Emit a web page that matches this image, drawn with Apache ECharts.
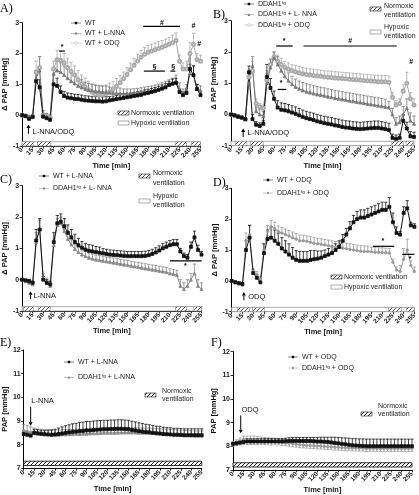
<!DOCTYPE html>
<html><head><meta charset="utf-8">
<script src="https://cdn.jsdelivr.net/npm/echarts@6/dist/echarts.min.js"></script>
<style>html,body{margin:0;padding:0;background:#fff}#c{width:419px;height:495px}</style>
</head><body><div id="c"></div>
<script>
// ---------- DATA ----------
const T = [0,5,10,15,20,25,30,35,40,45,50,55,60,
  65,70,75,80,85,90,95,100,105,110,115,120,125,
  130,135,140,145,150,155,160,165,170,175,180,185,190,
  195,200,205,210,215,220,225,230,235,240,245,250,255];

// Panel A
const A_WT = [0,-0.03,-0.12,-0.05,1.1,0.9,-0.05,-0.1,-0.15,1.0,0.95,0.75,0.62,
  0.57,0.55,0.53,0.52,0.5,0.48,0.47,0.46,0.45,0.45,0.44,0.45,0.48,
  0.5,0.52,0.54,0.56,0.58,0.6,0.62,0.64,0.66,0.7,0.72,0.75,0.78,
  0.82,0.86,0.9,0.98,1.02,1.05,0.75,0.65,0.72,1.5,1.3,0.85,0.65];
const A_WT_E = [0.03,0.03,0.05,0.05,0.3,0.25,0.1,0.1,0.1,0.3,0.25,0.2,0.15,
  0.15,0.15,0.15,0.15,0.15,0.15,0.15,0.15,0.15,0.15,0.15,0.15,0.12,
  0.12,0.12,0.12,0.12,0.12,0.12,0.12,0.12,0.12,0.12,0.12,0.12,0.12,
  0.12,0.12,0.12,0.12,0.15,0.15,0.1,0.1,0.15,0.5,0.3,0.15,0.1];
const A_LN = [0,-0.02,-0.05,-0.05,1.2,1.45,0.0,-0.05,-0.1,1.35,1.45,1.4,1.3,
  1.2,1.1,1.03,0.95,0.9,0.85,0.82,0.8,0.78,0.77,0.75,0.75,0.73,
  0.72,0.71,0.7,0.7,0.7,0.7,0.71,0.72,0.74,0.76,0.78,0.8,0.83,
  0.86,0.9,0.95,1.0,1.05,1.1,0.85,0.7,0.85,1.35,1.3,0.85,0.8];
const A_LN_E = [0.05,0.05,0.05,0.05,0.25,0.45,0.15,0.1,0.1,0.2,0.3,0.3,0.3,
  0.3,0.3,0.28,0.25,0.25,0.22,0.2,0.2,0.2,0.2,0.2,0.2,0.18,
  0.18,0.18,0.18,0.15,0.15,0.15,0.15,0.15,0.15,0.15,0.15,0.15,0.15,
  0.15,0.15,0.15,0.15,0.15,0.2,0.2,0.15,0.15,0.3,0.3,0.15,0.15];
const A_OD = [0,-0.03,-0.07,-0.05,1.4,1.55,0.0,-0.05,-0.08,1.5,1.8,1.78,1.7,
  1.55,1.42,1.3,1.15,1.02,0.92,0.82,0.74,0.68,0.66,0.66,0.7,0.76,
  0.84,0.94,1.05,1.18,1.32,1.47,1.62,1.76,1.88,1.98,2.04,2.08,2.12,
  2.16,2.2,2.25,2.3,2.35,2.42,1.75,1.5,1.5,2.0,2.3,1.8,1.75];
const A_OD_E = [0.03,0.03,0.05,0.05,0.35,0.35,0.1,0.1,0.1,0.25,0.3,0.3,0.3,
  0.3,0.3,0.3,0.3,0.28,0.28,0.28,0.28,0.28,0.28,0.28,0.28,0.28,
  0.26,0.25,0.24,0.22,0.22,0.22,0.22,0.22,0.22,0.22,0.22,0.22,0.22,
  0.22,0.22,0.22,0.22,0.25,0.25,0.2,0.2,0.25,0.35,0.35,0.2,0.2];

// Panel B
const B_DD = [0,-0.03,-0.07,-0.1,-0.15,1.35,-0.15,-0.33,-0.37,-0.3,1.2,0.85,0.5,
  0.22,0.15,0.13,0.1,0.06,0.02,-0.03,-0.08,-0.12,-0.15,-0.18,-0.22,-0.25,
  -0.28,-0.3,-0.32,-0.35,-0.37,-0.4,-0.42,-0.43,-0.45,-0.46,-0.47,-0.46,-0.45,
  -0.44,-0.43,-0.43,-0.45,-0.47,-0.5,-0.75,-0.78,-0.75,-0.2,-0.45,-0.7,-0.72];
const B_DD_E = [0.03,0.03,0.05,0.05,0.05,0.2,0.15,0.1,0.1,0.1,0.4,0.3,0.25,
  0.22,0.22,0.22,0.22,0.22,0.22,0.22,0.22,0.22,0.22,0.22,0.22,0.22,
  0.22,0.22,0.22,0.22,0.22,0.22,0.22,0.22,0.22,0.22,0.22,0.22,0.22,
  0.22,0.22,0.22,0.22,0.22,0.22,0.12,0.12,0.12,0.2,0.2,0.15,0.15];
const B_LN = [0,-0.03,-0.07,-0.1,-0.15,1.0,1.55,0.1,0.0,-0.05,1.0,1.5,1.8,
  1.6,1.4,1.22,1.08,0.97,0.88,0.82,0.77,0.73,0.7,0.67,0.64,0.62,
  0.6,0.57,0.55,0.52,0.5,0.48,0.46,0.44,0.42,0.4,0.38,0.36,0.34,
  0.32,0.3,0.28,0.26,0.24,0.22,0.0,-0.3,-0.25,0.0,0.2,-0.2,-0.3];
const B_LN_E = [0.03,0.05,0.05,0.05,0.05,0.3,0.3,0.2,0.15,0.15,0.3,0.25,0.2,
  0.25,0.25,0.25,0.25,0.25,0.25,0.25,0.25,0.25,0.25,0.25,0.25,0.25,
  0.25,0.25,0.25,0.25,0.25,0.25,0.25,0.25,0.25,0.25,0.25,0.25,0.25,
  0.25,0.25,0.25,0.25,0.25,0.2,0.2,0.2,0.2,0.25,0.3,0.25,0.25];
const B_OD = [0,-0.03,-0.07,-0.1,-0.15,1.2,1.4,0.35,0.25,0.2,1.1,1.6,1.85,
  1.7,1.6,1.5,1.45,1.4,1.37,1.33,1.3,1.28,1.26,1.25,1.23,1.22,
  1.2,1.19,1.18,1.17,1.16,1.15,1.14,1.13,1.12,1.11,1.1,1.09,1.08,
  1.07,1.06,1.05,1.05,1.05,1.03,0.55,0.3,0.35,0.75,1.0,0.5,0.3];
const B_OD_E = [0.03,0.05,0.05,0.05,0.05,0.25,0.3,0.15,0.1,0.1,0.3,0.2,0.15,
  0.2,0.2,0.2,0.2,0.2,0.2,0.2,0.2,0.2,0.2,0.2,0.2,0.2,
  0.2,0.2,0.2,0.2,0.2,0.2,0.2,0.2,0.2,0.2,0.2,0.2,0.2,
  0.2,0.2,0.2,0.2,0.2,0.2,0.15,0.15,0.15,0.2,0.35,0.2,0.2];

// Panel C
const C_WT = [0,-0.02,-0.05,-0.1,1.25,1.6,0.0,-0.1,-0.15,1.2,1.8,1.85,1.7,
  1.5,1.35,1.2,1.1,1.02,0.96,0.92,0.9,0.88,0.86,0.84,0.82,0.8,
  0.79,0.78,0.77,0.76,0.75,0.75,0.75,0.75,0.75,0.76,0.78,0.82,0.87,
  0.93,1.0,1.05,1.1,1.13,1.13,0.9,0.75,0.7,1.05,1.35,0.95,0.8];
const C_WT_E = [0.03,0.03,0.05,0.05,0.35,0.35,0.1,0.1,0.1,0.3,0.25,0.25,0.25,
  0.25,0.25,0.25,0.22,0.2,0.2,0.2,0.2,0.18,0.18,0.15,0.15,0.15,
  0.15,0.15,0.15,0.15,0.15,0.15,0.15,0.15,0.15,0.15,0.15,0.15,0.15,
  0.15,0.15,0.15,0.15,0.15,0.15,0.1,0.1,0.1,0.15,0.2,0.15,0.1];
const C_DD = [0,-0.05,-0.1,-0.15,1.2,1.6,0.05,-0.1,-0.2,1.1,1.75,1.8,1.55,
  1.3,1.12,0.98,0.88,0.8,0.75,0.7,0.67,0.64,0.62,0.6,0.58,0.56,
  0.54,0.52,0.5,0.48,0.46,0.44,0.42,0.4,0.38,0.36,0.34,0.32,0.3,
  0.28,0.26,0.24,0.2,0.18,0.15,-0.2,-0.3,-0.2,0.0,0.2,-0.2,-0.3];
const C_DD_E = [0.03,0.05,0.05,0.05,0.3,0.3,0.15,0.15,0.15,0.2,0.2,0.2,0.2,
  0.15,0.15,0.15,0.15,0.15,0.15,0.15,0.15,0.15,0.15,0.15,0.15,0.15,
  0.15,0.15,0.15,0.15,0.15,0.15,0.15,0.15,0.15,0.15,0.15,0.15,0.15,
  0.15,0.15,0.15,0.15,0.15,0.15,0.2,0.2,0.2,0.2,0.3,0.2,0.2];

// Panel D
const D_WT = [0,-0.05,-0.08,-0.1,1.0,1.4,0.25,0.1,-0.05,0.9,1.35,1.4,1.3,
  1.2,1.05,0.95,0.85,0.75,0.68,0.65,0.65,0.65,0.68,0.7,0.72,0.75,
  0.8,0.85,0.9,1.0,1.1,1.3,1.5,1.7,1.9,2.0,2.05,2.05,2.1,
  2.15,2.2,2.25,2.3,2.3,2.4,1.9,1.55,1.5,2.2,2.35,1.8,1.75];
const D_WT_E = [0.03,0.05,0.05,0.05,0.3,0.4,0.1,0.1,0.1,0.3,0.3,0.35,0.35,
  0.35,0.35,0.35,0.35,0.33,0.3,0.3,0.3,0.3,0.3,0.28,0.25,0.22,
  0.2,0.2,0.2,0.2,0.2,0.2,0.2,0.22,0.22,0.25,0.25,0.25,0.25,
  0.25,0.25,0.25,0.25,0.25,0.3,0.3,0.2,0.1,0.2,0.25,0.1,0.1];
const D_DD = [0,-0.05,-0.1,-0.15,1.3,1.5,0.3,0.2,0.05,1.0,1.6,1.75,1.7,
  1.6,1.55,1.5,1.45,1.4,1.35,1.3,1.3,1.28,1.25,1.22,1.2,1.18,
  1.16,1.14,1.12,1.1,1.08,1.06,1.04,1.02,1.0,0.98,0.96,0.95,0.95,
  0.94,0.93,0.92,0.92,0.91,0.9,0.6,0.35,0.3,0.7,1.0,0.5,0.3];
const D_DD_E = [0.03,0.05,0.05,0.05,0.25,0.3,0.1,0.1,0.1,0.2,0.2,0.2,0.2,
  0.18,0.18,0.18,0.18,0.18,0.18,0.18,0.18,0.18,0.18,0.18,0.18,0.18,
  0.18,0.18,0.18,0.18,0.18,0.18,0.18,0.18,0.18,0.18,0.18,0.18,0.18,
  0.15,0.15,0.15,0.15,0.15,0.15,0.1,0.1,0.2,0.35,0.35,0.15,0.15];

// Panel E
const E_WT = [8.45,8.42,8.38,8.5,8.48,8.46,8.44,8.43,8.42,8.43,8.45,8.47,8.5,
  8.52,8.54,8.55,8.57,8.58,8.6,8.6,8.62,8.63,8.64,8.65,8.65,8.66,
  8.66,8.67,8.67,8.66,8.65,8.62,8.6,8.57,8.55,8.53,8.52,8.5,8.48,
  8.47,8.45,8.44,8.43,8.42,8.42,8.41,8.4,8.4,8.4,8.4,8.4,8.4];
const E_WT_E = [0.15,0.15,0.15,0.15,0.15,0.15,0.15,0.18,0.2,0.22,0.25,0.28,0.3,
  0.32,0.34,0.35,0.36,0.37,0.38,0.38,0.38,0.38,0.38,0.38,0.38,0.38,
  0.38,0.38,0.38,0.38,0.38,0.37,0.36,0.35,0.34,0.33,0.32,0.31,0.3,
  0.3,0.29,0.28,0.28,0.27,0.27,0.27,0.27,0.27,0.27,0.27,0.27,0.27];
const E_DD = [8.6,8.55,8.5,8.48,8.46,8.45,8.44,8.43,8.42,8.42,8.42,8.43,8.43,
  8.44,8.44,8.45,8.45,8.46,8.46,8.47,8.48,8.48,8.49,8.5,8.5,8.5,
  8.5,8.5,8.51,8.51,8.51,8.51,8.51,8.5,8.5,8.5,8.5,8.49,8.48,
  8.47,8.46,8.45,8.44,8.43,8.42,8.41,8.4,8.4,8.39,8.38,8.38,8.38];
const E_DD_E = [0.25,0.25,0.25,0.22,0.2,0.2,0.2,0.2,0.2,0.2,0.2,0.2,0.2,
  0.2,0.2,0.2,0.2,0.2,0.2,0.2,0.2,0.2,0.2,0.2,0.2,0.2,
  0.2,0.2,0.2,0.2,0.2,0.2,0.2,0.2,0.2,0.2,0.2,0.2,0.2,
  0.2,0.2,0.2,0.2,0.2,0.2,0.2,0.2,0.2,0.2,0.2,0.2,0.2];

// Panel F
const F_WT = [8.1,8.12,8.15,8.18,8.2,8.2,8.2,8.2,8.2,8.2,8.2,8.2,8.2,
  8.2,8.2,8.21,8.22,8.22,8.22,8.22,8.22,8.22,8.22,8.21,8.2,8.2,
  8.19,8.18,8.16,8.14,8.12,8.1,8.08,8.06,8.04,8.03,8.02,8.01,8.0,
  8.0,8.0,8.0,8.0,8.0,8.0,8.0,8.0,8.0,8.0,8.0,8.0,8.0];
const F_WT_E = [0.05,0.08,0.1,0.12,0.12,0.12,0.12,0.12,0.12,0.12,0.12,0.12,0.12,
  0.12,0.12,0.13,0.14,0.15,0.15,0.15,0.15,0.15,0.15,0.16,0.17,0.18,
  0.19,0.2,0.22,0.24,0.25,0.26,0.27,0.28,0.28,0.29,0.29,0.3,0.3,
  0.3,0.3,0.3,0.3,0.3,0.3,0.3,0.3,0.3,0.3,0.3,0.3,0.3];
const F_DD = [8.1,8.15,8.2,8.25,8.25,8.25,8.25,8.24,8.23,8.22,8.21,8.2,8.2,
  8.18,8.16,8.14,8.12,8.1,8.08,8.06,8.05,8.04,8.03,8.02,8.01,8.0,
  7.99,7.98,7.97,7.96,7.95,7.94,7.93,7.93,7.92,7.92,7.91,7.91,7.9,
  7.9,7.9,7.9,7.9,7.9,7.9,7.9,7.9,7.9,7.9,7.9,7.9,7.9];
const F_DD_E = [0.1,0.12,0.15,0.18,0.18,0.18,0.18,0.17,0.16,0.15,0.15,0.15,0.14,
  0.13,0.13,0.12,0.12,0.12,0.12,0.12,0.12,0.12,0.12,0.12,0.12,0.12,
  0.12,0.12,0.12,0.12,0.12,0.12,0.12,0.12,0.12,0.12,0.12,0.12,0.12,
  0.12,0.12,0.12,0.12,0.12,0.12,0.12,0.12,0.12,0.12,0.12,0.12,0.12];

// ventilation segments [start, end, normoxic(1)/hypoxic(0)]
const VENT_A = [[0,255,0],[0,16,1],[22,41,1],[219,235,1],[242,255,1]];
const VENT_B = [[0,255,0],[6,22,1],[27,45,1],[224,240,1],[244,254,1]];
const VENT_C = [[0,255,0],[2,16,1],[23,40,1],[218,234,1],[244,255,1]];
const VENT_D = [[0,255,0],[8,25,1],[29,46,1],[219,237,1],[244,255,1]];
const VENT_E = [[0,255,1]];
const VENT_F = [[0,255,1]];

// significance marks
const ANN_A = [
  {x1:173,x2:226,y:2.88,s:'#',lx:200,ly:3.0},
  {x1:53,x2:61,y:2.08,s:'*',lx:57,ly:2.2},
  {x1:174,x2:204,y:1.43,s:'§',lx:189,ly:1.57},
  {x1:212,x2:219,y:1.43,s:'§',lx:216,ly:1.57},
  {s:'#',lx:245,ly:2.88},
  {s:'#',lx:253,ly:2.3}];
const ANN_B = [
  {x1:63,x2:86,y:2.19,s:'*',lx:74,ly:2.35},
  {x1:101,x2:231,y:2.19,s:'#',lx:166,ly:2.35},
  {x1:65,x2:77,y:0.8,s:'*',lx:70,ly:1.0},
  {s:'#',lx:251,ly:1.68}];
const ANN_C = [{x1:210,x2:255,y:0.6,s:'*',lx:232,ly:0.45}];
const ANN_D = [{x1:197,x2:227,y:1.12,s:'*',lx:211,ly:1.3},{x1:238,x2:255,y:0.86,s:'*',lx:249,ly:0.72}];

// drug arrows
const ARR_A = [{t:9,y1:-0.6,y2:-0.3,label:'L-NNA/ODQ',lt:15,ly:-0.53}];
const ARR_B = [{t:17,y1:-0.72,y2:-0.45,label:'L-NNA/ODQ',lt:23,ly:-0.6}];
const ARR_C = [{t:12,y1:-0.62,y2:-0.37,label:'L-NNA',lt:16,ly:-0.53}];
const ARR_D = [{t:17,y1:-0.63,y2:-0.36,label:'ODQ',lt:23,ly:-0.52}];
const ARR_E = [{t:10,y1:9.6,y2:8.8,label:'L-NNA',lt:11,ly:9.85}];
const ARR_F = [{t:11,y1:9.3,y2:8.55,label:'ODQ',lt:12,ly:9.55}];

// ---------- CHART ----------
const FONT = '"Liberation Sans", Arial, sans-serif';
function hatchCanvas(line, bg){
  const c = document.createElement('canvas'); c.width = 4; c.height = 4;
  const g = c.getContext('2d'); g.fillStyle = bg; g.fillRect(0,0,4,4);
  g.strokeStyle = line; g.lineWidth = 0.9; g.beginPath();
  g.moveTo(0,4); g.lineTo(4,0); g.moveTo(-1,1); g.lineTo(1,-1); g.moveTo(3,5); g.lineTo(5,3);
  g.stroke(); return c;
}
const HATCH = {image: hatchCanvas('#444','#fff'), repeat:'repeat'};
const HATCH2 = {image: hatchCanvas('#000','#fff'), repeat:'repeat'};

const LINE_P = 'M0,4.5 H20 V5.5 H0 Z ';
const ICONS = {
  blk: 'path://' + LINE_P + 'M7.5,2.5 H12.5 V7.5 H7.5 Z',
  ln:  'path://' + LINE_P + 'M10,2 L13,7.5 L7,7.5 Z',
  g1:  'path://' + LINE_P + 'M10,2 L13,7.5 L7,7.5 Z',
  g2:  'path://' + LINE_P + 'M12.5,5 A2.5,2.5 0 1 1 7.5,5 A2.5,2.5 0 1 1 12.5,5 Z',
  od:  'path://M0,4.5 H7 V5.5 H0 Z M13,4.5 H20 V5.5 H13 Z M13,5 A3,3 0 1 0 7,5 A3,3 0 1 0 13,5 Z M12,5 A2,2 0 1 1 8,5 A2,2 0 1 1 12,5 Z'
};

const STY = {
  blk: {color:'#111', symbol:'rect', size:3},
  ln:  {color:'#777', symbol:'triangle', size:3},
  od:  {color:'#aaa', symbol:'emptyCircle', size:3},
  g1:  {color:'#888', symbol:'triangle', size:3},
  g2:  {color:'#999', symbol:'circle', size:2.5}
};

const panels = [
  {grid:{left:21.5,top:22.7,width:179,height:123.3}, y:[-1,3], yName:'Δ PAP [mmHg]',
   ser:[['WT',A_WT,A_WT_E,1,'blk'],['WT + L-NNA',A_LN,A_LN_E,1,'ln'],['WT + ODQ',A_OD,A_OD_E,1,'od']],
   leg:{left:71,top:19,gap:2}, vent:VENT_A, band:[-1,-0.86], ann:ANN_A, arr:ARR_A, letter:['A)',0,3]},
  {grid:{left:231,top:20.7,width:183,height:125}, y:[-1,3], yName:'Δ PAP [mmHg]',
   ser:[['DDAH1ᵗᵍ',B_DD,B_DD_E,1,'blk'],['DDAH1ᵗᵍ + L- NNA',B_LN,B_LN_E,1,'ln'],['DDAH1ᵗᵍ + ODQ',B_OD,B_OD_E,1,'od']],
   leg:{left:244,top:0,gap:2.5}, vent:VENT_B, band:[-1,-0.86], ann:ANN_B, arr:ARR_B, letter:['B)',213,9]},
  {grid:{left:21,top:185.7,width:180.5,height:125.3}, y:[-1,3], yName:'Δ PAP [mmHg]',
   ser:[['WT + L-NNA ',C_WT,C_WT_E,1,'blk'],['DDAH1ᵗᵍ + L- NNA ',C_DD,C_DD_E,1,'g1']],
   leg:{left:39,top:172,gap:4}, vent:VENT_C, band:[-1,-0.86], ann:ANN_C, arr:ARR_C, letter:['C)',0,174]},
  {grid:{left:231.7,top:188.3,width:184,height:123.4}, y:[-1,3], yName:'Δ PAP [mmHg]',
   ser:[['WT + ODQ ',D_WT,D_WT_E,1,'blk'],['DDAH1ᵗᵍ + ODQ ',D_DD,D_DD_E,1,'g2']],
   leg:{left:263,top:176,gap:5}, vent:VENT_D, band:[-1,-0.86], ann:ANN_D, arr:ARR_D, letter:['D)',213,177]},
  {grid:{left:23.3,top:350,width:178.4,height:118.3}, y:[7,12], yName:'PAP [mmHg]',
   ser:[['WT + L-NNA  ',E_WT,E_WT_E,1,'blk'],['DDAH1ᵗᵍ + L-NNA',E_DD,E_DD_E,1,'g1']],
   leg:{left:64,top:358,gap:7}, vent:VENT_E, band:[7.12,7.3], ann:[], arr:ARR_E, letter:['E)',0,337]},
  {grid:{left:233,top:351.7,width:179,height:118.3}, y:[7,12], yName:'PAP [mmHg]',
   ser:[['WT + ODQ  ',F_WT,F_WT_E,1,'blk'],['DDAH1ᵗᵍ + ODQ  ',F_DD,F_DD_E,0,'g2']],
   leg:{left:288,top:353,gap:3}, vent:VENT_F, band:[7.12,7.3], ann:[], arr:ARR_F, letter:['F)',211,337]}
];

function errRender(dir, color){
  return function(params, api){
    const t = api.value(0), m = api.value(1), e = api.value(2);
    const c = api.coord([t, m]);
    const ch = [];
    (dir === 0 ? [1,-1] : [dir]).forEach(d => {
      const p = api.coord([t, m + d*e]);
      ch.push({type:'line', shape:{x1:c[0],y1:c[1],x2:p[0],y2:p[1]}, style:{stroke:color, lineWidth:0.8}});
      ch.push({type:'line', shape:{x1:p[0]-1.6,y1:p[1],x2:p[0]+1.6,y2:p[1]}, style:{stroke:color, lineWidth:0.8}});
    });
    return {type:'group', children:ch};
  };
}
function ventRender(band, ef){
  return function(params, api){
    const s = api.value(0), e = api.value(1), k = api.value(2);
    const p1 = api.coord([s, band[1]]), p2 = api.coord([e, band[0]]);
    const shape = {x:p1[0], y:p1[1], width:p2[0]-p1[0], height:p2[1]-p1[1]};
    const style = k ? {fill: ef ? HATCH2 : HATCH, stroke: ef ? '#000' : '#777', lineWidth: ef ? 0.8 : 0.5}
                    : {fill:'#fff', stroke:'#999', lineWidth:0.8};
    return {type:'rect', shape, style};
  };
}
function annRender(list){
  return function(params, api){
    const a = list[params.dataIndex];
    const ch = [];
    if (a.x2 != null){
      const p1 = api.coord([a.x1, a.y]), p2 = api.coord([a.x2, a.y]);
      ch.push({type:'line', shape:{x1:p1[0],y1:p1[1],x2:p2[0],y2:p2[1]}, style:{stroke:'#000', lineWidth:1.2}});
    }
    const pl = api.coord([a.lx, a.ly]);
    ch.push({type:'text', x:pl[0], y:pl[1], style:{text:a.s, align:'center', verticalAlign:'middle', fontSize:7, fontWeight:'bold', fontFamily:FONT, fill:'#000'}});
    return {type:'group', children:ch};
  };
}
function arrRender(list){
  return function(params, api){
    const a = list[params.dataIndex];
    const tail = api.coord([a.t, a.y1]), head = api.coord([a.t, a.y2]);
    const d = head[1] < tail[1] ? -1 : 1;
    const hs = 3.5;
    const tp = api.coord([a.lt, a.ly]);
    return {type:'group', children:[
      {type:'line', shape:{x1:tail[0],y1:tail[1],x2:head[0],y2:head[1]-d*hs}, style:{stroke:'#000', lineWidth:1}},
      {type:'polygon', shape:{points:[[head[0],head[1]],[head[0]-2,head[1]-d*hs],[head[0]+2,head[1]-d*hs]]}, style:{fill:'#000'}},
      {type:'text', x:tp[0], y:tp[1], style:{text:a.label, align:'left', verticalAlign:'middle', fontSize:7.5, fontFamily:FONT, fill:'#111'}}
    ]};
  };
}

const option = {animation:false, backgroundColor:'#fff', grid:[], xAxis:[], yAxis:[], series:[], legend:[], graphic:[]};
const axisFont = {fontSize:6.5, fontWeight:'bold', color:'#222', fontFamily:FONT};

panels.forEach((P, i) => {
  option.grid.push(Object.assign({containLabel:false}, P.grid));
  option.xAxis.push({gridIndex:i, type:'value', min:0, max:255, interval:15,
    axisLine:{onZero:false, lineStyle:{color:'#000', width:1}},
    axisTick:{length:2.5, lineStyle:{color:'#000', width:0.8}},
    axisLabel:Object.assign({rotate:45, margin:3}, axisFont),
    splitLine:{show:false},
    name:'Time [min]', nameLocation:'middle', nameGap:15,
    nameTextStyle:{fontSize:7.5, fontWeight:'bold', color:'#111', fontFamily:FONT}});
  option.yAxis.push({gridIndex:i, type:'value', min:P.y[0], max:P.y[1], interval:1,
    axisLine:{show:true, onZero:false, lineStyle:{color:'#000', width:1}},
    axisTick:{show:true, length:2.5, lineStyle:{color:'#000', width:0.8}},
    axisLabel:Object.assign({margin:3}, axisFont, {fontSize:7}),
    splitLine:{show:false},
    name:P.yName, nameLocation:'middle', nameGap:i>=4?13:10, nameRotate:90,
    nameTextStyle:{fontSize:7.5, fontWeight:'bold', color:'#111', fontFamily:FONT}});

  option.series.push({type:'custom', xAxisIndex:i, yAxisIndex:i, silent:true, z:1,
    data:P.vent, encode:{x:0, y:-1}, renderItem:ventRender(P.band, i>=4)});

  P.ser.slice().reverse().forEach(s => {
    const st = STY[s[4]];
    option.series.push({type:'custom', xAxisIndex:i, yAxisIndex:i, silent:true, z:2,
      data:T.map((t,k)=>[t, s[1][k], s[2][k]]), encode:{x:0, y:1}, renderItem:errRender(s[3], st.color)});
  });
  P.ser.slice().reverse().forEach(s => {
    const st = STY[s[4]];
    option.series.push({type:'line', name:s[0], xAxisIndex:i, yAxisIndex:i, silent:true, z:3,
      data:T.map((t,k)=>[t, s[1][k]]), symbol:st.symbol, symbolSize:st.size, showSymbol:true,
      lineStyle:{color:st.color, width:1}, itemStyle:{color:st.color, borderColor:st.color, borderWidth:0.8}});
  });

  if (P.ann.length) option.series.push({type:'custom', xAxisIndex:i, yAxisIndex:i, silent:true, z:4,
    data:P.ann.map(a=>[a.lx, a.ly]), encode:{x:0, y:1}, renderItem:annRender(P.ann)});
  option.series.push({type:'custom', xAxisIndex:i, yAxisIndex:i, silent:true, z:4,
    data:P.arr.map(a=>[a.t, a.y2]), encode:{x:0, y:1}, renderItem:arrRender(P.arr)});

  option.legend.push({left:P.leg.left, top:P.leg.top, orient:'vertical', padding:0, itemGap:P.leg.gap,
    itemWidth:10, itemHeight:5, selectedMode:false,
    itemStyle:{borderWidth:0},
    textStyle:{fontSize:7, color:'#222', fontFamily:FONT, lineHeight:8, padding:[0,0,0,-1]},
    data:P.ser.map(s=>({name:s[0], icon:ICONS[s[4]], itemStyle:{color:STY[s[4]].color, borderWidth:0}}))});

  option.graphic.push({type:'text', left:P.letter[1], top:P.letter[2],
    style:{text:P.letter[0], font:'12px "Liberation Serif", "Times New Roman", serif', fill:'#000'}});
});

function box(x, y, hatched, ef){
  return {type:'rect', shape:{x:x, y:y, width:11, height:4},
    style:{fill: hatched ? (ef?HATCH2:HATCH) : '#fff', stroke: hatched ? '#333' : '#888', lineWidth:0.7}};
}
function txt(x, y, s){
  return {type:'text', x:x, y:y, style:{text:s, fontSize:7, fontFamily:FONT, fill:'#222', verticalAlign:'middle'}};
}
option.graphic.push(
  box(118,111,true), txt(131,113,'Normoxic ventilation'),
  box(118,121,false), txt(131,123,'Hypoxic ventilation'),
  box(370,7,true), txt(384,6,'Normoxic'), txt(384,15,'ventilation'),
  box(370,30,false), txt(384,27,'Hypoxic'), txt(384,36,'ventilation'),
  box(139,174,true), txt(153,173,'Normoxic'), txt(153,183,'ventilation'),
  box(139,199,false), txt(153,196,'Hypoxic'), txt(153,205,'ventilation'),
  box(331,275,true), txt(344,277,'Normoxic ventilation'),
  box(331,285,false), txt(344,287,'Hypoxic ventilation'),
  box(145,393,true,true), txt(162,391,'Normoxic'), txt(162,399,'ventilation'),
  box(361,412,true,true), txt(378,406,'Normoxic'), txt(378,414,'ventilation')
);

const chart = echarts.init(document.getElementById('c'), null, {renderer:'canvas'});
chart.setOption(option);
</script>
</body></html>
